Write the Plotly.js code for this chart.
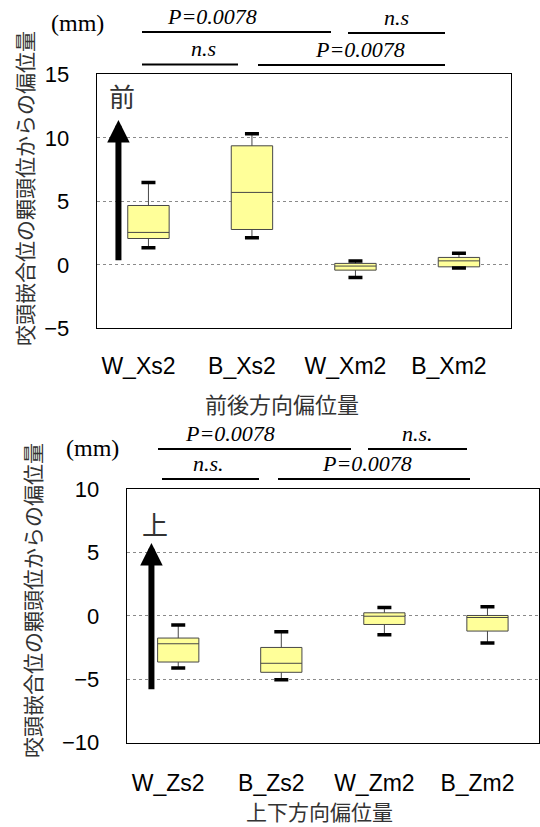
<!DOCTYPE html>
<html>
<head>
<meta charset="utf-8">
<script src="https://cdn.plot.ly/plotly-3.0.1.min.js"></script>
<style>
  html, body { margin: 0; padding: 0; background: #fff; }
  #chart { width: 540px; height: 827px; }
</style>
</head>
<body>
<div id="chart"></div>
<script>
// Anterior-posterior displacement (mm)
const apCategories = ['W_Xs2', 'B_Xs2', 'W_Xm2', 'B_Xm2'];
const apLower  = [1.34, 2.13, -1.00, -0.26];
const apQ1     = [2.07, 2.78, -0.42, -0.16];
const apMedian = [2.55, 5.70, -0.10, 0.31];
const apQ3     = [4.67, 9.37, 0.11, 0.58];
const apUpper  = [6.48, 10.31, 0.29, 0.90];

// Superior-inferior displacement (mm)
const siCategories = ['W_Zs2', 'B_Zs2', 'W_Zm2', 'B_Zm2'];
const siLower  = [-4.11, -5.03, -1.49, -2.15];
const siQ1     = [-3.64, -4.45, -0.68, -1.20];
const siMedian = [-2.20, -3.74, -0.03, -0.13];
const siQ3     = [-1.75, -2.49, 0.24, 0.03];
const siUpper  = [-0.73, -1.26, 0.65, 0.71];

// Axis ticks
const apTicks = [-5, 0, 5, 10, 15];
const siTicks = [-10, -5, 0, 5, 10];

// Significance labels (pairwise comparisons)
const apSigLabels = ['P=0.0078', 'n.s', 'n.s', 'P=0.0078'];
const siSigLabels = ['P=0.0078', 'n.s.', 'n.s.', 'P=0.0078'];

const W = 540, H = 827;
const px = v => v / W;
const py = v => 1 - v / H;

const SANS = 'Liberation Sans, Arial, sans-serif';
const SERIF = 'Liberation Serif, Times New Roman, serif';
const CJK = 'Noto Sans CJK JP, sans-serif';

function boxTrace(cats, lo, q1, med, q3, hi, xa, ya) {
  return {
    type: 'box', x: cats, q1: q1, median: med, q3: q3,
    lowerfence: lo, upperfence: hi,
    width: 0.4, fillcolor: '#ffff99',
    line: { color: '#474747', width: 1 },
    whiskerwidth: 0, boxpoints: false, hoverinfo: 'skip',
    xaxis: xa, yaxis: ya
  };
}
function capTrace(cats, lo, hi, xa, ya) {
  return {
    type: 'scatter', mode: 'markers',
    x: cats.concat(cats), y: lo.concat(hi),
    marker: { symbol: 'line-ew', size: 10, color: '#000', line: { width: 3.5, color: '#000' } },
    hoverinfo: 'skip', xaxis: xa, yaxis: ya
  };
}

const data = [
  boxTrace(apCategories, apLower, apQ1, apMedian, apQ3, apUpper, 'x', 'y'),
  capTrace(apCategories, apLower, apUpper, 'x', 'y'),
  boxTrace(siCategories, siLower, siQ1, siMedian, siQ3, siUpper, 'x2', 'y2'),
  capTrace(siCategories, siLower, siUpper, 'x2', 'y2')
];

function xAxis(domain, anchor, cats, standoff) {
  return {
    domain: domain, anchor: anchor, type: 'category',
    categoryorder: 'array', categoryarray: cats, range: [-0.5, 3.5],
    showline: true, mirror: true, linecolor: '#000', linewidth: 1,
    ticks: '', showgrid: false, zeroline: false,
    tickfont: { family: SANS, size: 23, color: '#000' },
    ticklabelstandoff: standoff, ticklabelshift: -10, fixedrange: true
  };
}
function yAxis(domain, anchor, range, ticks) {
  return {
    domain: domain, anchor: anchor, range: range,
    tickmode: 'array', tickvals: ticks,
    showline: true, mirror: true, linecolor: '#000', linewidth: 1,
    ticks: '', zeroline: false,
    showgrid: true, gridcolor: '#8a8a8a', griddash: 'dot', gridwidth: 1,
    tickfont: { family: SANS, size: 22, color: '#000' },
    ticklabelstandoff: 22, fixedrange: true
  };
}

// Bracket lines and labels for the significance rows
function sigRow(labels, items) {
  const shapes = [], notes = [];
  items.forEach((it, i) => {
    shapes.push({
      type: 'line', xref: 'paper', yref: 'paper',
      x0: px(it.x0), x1: px(it.x1), y0: py(it.y), y1: py(it.y),
      line: { color: '#000', width: 2 }
    });
    notes.push({
      xref: 'paper', yref: 'paper', x: px((it.x0 + it.x1) / 2 + (it.dx || 0)), y: py(it.y - 1),
      xanchor: 'center', yanchor: 'bottom', showarrow: false,
      text: '<i>' + labels[i] + '</i>',
      font: { family: SERIF, size: 22, color: '#000' }
    });
  });
  return { shapes, notes };
}

const apSig = sigRow(apSigLabels, [
  { x0: 142, x1: 331, y: 32, dx: -25 },
  { x0: 348, x1: 445, y: 33 },
  { x0: 142, x1: 238, y: 64.5, dx: 13 },
  { x0: 258, x1: 445, y: 65, dx: 8 }
]);
const siSig = sigRow(siSigLabels, [
  { x0: 158, x1: 351, y: 449, dx: -25 },
  { x0: 368, x1: 467, y: 449 },
  { x0: 162, x1: 259, y: 479, dx: -2 },
  { x0: 278, x1: 470, y: 479, dx: -7 }
]);

function paperText(x, y, text, font, extra) {
  return Object.assign({
    xref: 'paper', yref: 'paper', x: px(x), y: py(y), text: text,
    xanchor: 'center', yanchor: 'middle', showarrow: false, borderpad: 0, font: font
  }, extra || {});
}

const annotations = [
  // direction arrows
  { xref: 'x', yref: 'y', axref: 'x', ayref: 'y', x: -0.29, y: 11.4, ax: -0.29, ay: 0.25,
    showarrow: true, arrowhead: 2, arrowsize: 0.75, arrowwidth: 6, arrowcolor: '#000', text: '', standoff: 0 },
  { xref: 'x', yref: 'y', x: -0.26, y: 13.35, text: '前', showarrow: false,
    xanchor: 'center', yanchor: 'middle', font: { family: CJK, size: 26, color: '#333' } },
  { xref: 'x2', yref: 'y2', axref: 'x2', ayref: 'y2', x: -0.26, y: 5.75, ax: -0.26, ay: -5.9,
    showarrow: true, arrowhead: 2, arrowsize: 0.75, arrowwidth: 6, arrowcolor: '#000', text: '', standoff: 0 },
  { xref: 'x2', yref: 'y2', x: -0.23, y: 7.3, text: '上', showarrow: false,
    xanchor: 'center', yanchor: 'middle', font: { family: CJK, size: 26, color: '#333' } },
  // units
  paperText(78, 23, '(mm)', { family: SERIF, size: 24, color: '#000' }),
  paperText(92, 448, '(mm)', { family: SERIF, size: 24, color: '#000' }),
  // axis titles
  paperText(282, 403, '前後方向偏位量', { family: CJK, size: 22, color: '#333' }),
  paperText(319, 811, '上下方向偏位量', { family: CJK, size: 21, color: '#333' }),
  paperText(24, 189, '咬頭嵌合位の顆頭位からの偏位量', { family: CJK, size: 21, color: '#333' }, { textangle: -90 }),
  paperText(32, 601, '咬頭嵌合位の顆頭位からの偏位量', { family: CJK, size: 21, color: '#333' }, { textangle: -90 })
].concat(apSig.notes, siSig.notes);

const layout = {
  width: W, height: H,
  margin: { l: 0, r: 0, t: 0, b: 0 },
  paper_bgcolor: '#fff', plot_bgcolor: '#fff',
  showlegend: false,
  xaxis: xAxis([px(96.7), px(510.7)], 'y', apCategories, 17),
  yaxis: yAxis([py(328.3), py(74.3)], 'x', [-5, 15], apTicks),
  xaxis2: xAxis([px(126.7), px(539)], 'y2', siCategories, 20),
  yaxis2: yAxis([py(742.7), py(489)], 'x2', [-10, 10], siTicks),
  shapes: apSig.shapes.concat(siSig.shapes),
  annotations: annotations
};

Plotly.newPlot('chart', data, layout, { staticPlot: true, displayModeBar: false });
</script>
</body>
</html>
